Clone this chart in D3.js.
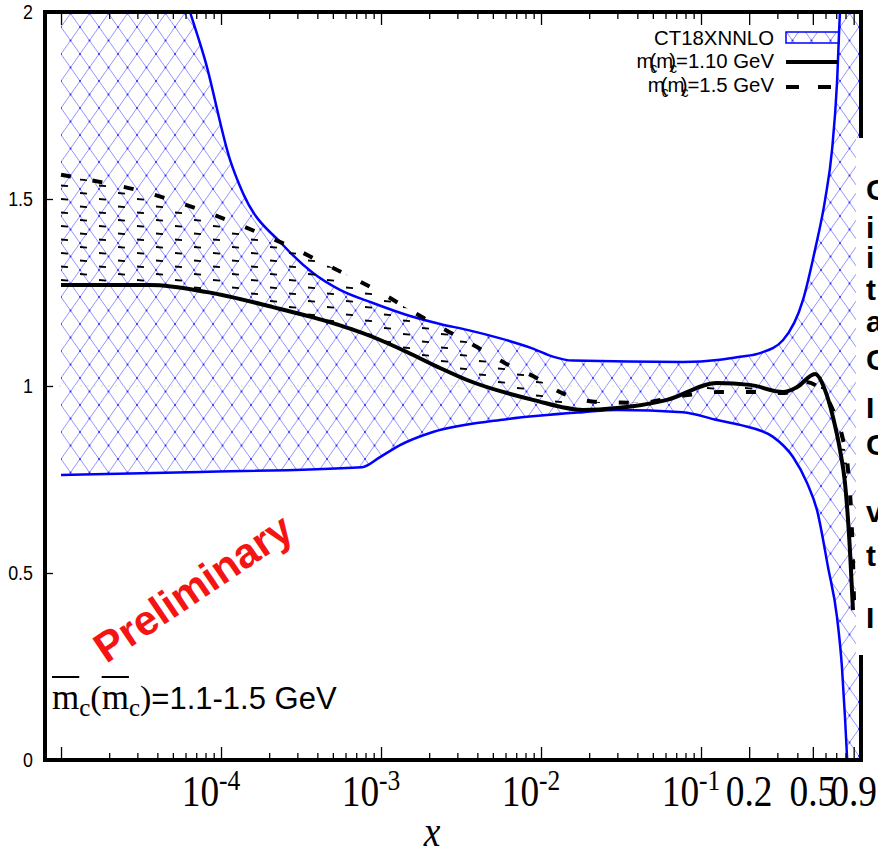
<!DOCTYPE html>
<html><head><meta charset="utf-8">
<script src="https://cdn.jsdelivr.net/npm/d3@7"></script>
<style>
html,body{margin:0;padding:0;background:#fff;}
#wrap{position:relative;width:878px;height:855px;overflow:hidden;background:#fff;}
svg{position:absolute;left:0;top:0;}
#mlabel{position:absolute;left:52px;top:680px;font-family:"Liberation Sans",Arial,sans-serif;font-size:31px;white-space:nowrap;color:#000;line-height:1;}
#mlabel .ov{text-decoration:overline;text-decoration-thickness:2px;font-family:"Liberation Serif","DejaVu Serif",serif;font-size:35px;}
#mlabel .sb{font-family:"Liberation Serif","DejaVu Serif",serif;font-size:25px;position:relative;top:7px;}
#mlabel .pr{font-family:"Liberation Serif","DejaVu Serif",serif;font-size:34px;}
</style></head><body><div id="wrap"></div>
<script>
// ---------- data ----------
const bandX     = [1e-5, 3e-5, 6.4e-5, 7.94e-5, 1.14e-4, 1.37e-4, 2.44e-4, 3.76e-4, 5.54e-4, 8.9e-4, 1.45e-3, 2.34e-3, 3.45e-3, 5.5e-3, 8.9e-3, 1.2e-2, 1.58e-2, 7.7e-2, 0.131, 0.175, 0.234, 0.326, 0.434, 0.516, 0.596, 0.659, 0.708, 0.739, 0.77, 1.0];
const bandUpper = [3.3, 2.45, 2.0, 1.872, 1.604, 1.516, 1.377, 1.302, 1.257, 1.222, 1.190, 1.166, 1.150, 1.128, 1.100, 1.078, 1.068, 1.064, 1.070, 1.078, 1.088, 1.123, 1.230, 1.364, 1.497, 1.631, 1.810, 2.0, 2.1, 3.0];
const lowX      = [1e-5, 7.4e-5, 7.6e-4, 9.86e-4, 1.315e-3, 2.11e-3, 5.55e-3, 1.83e-2, 2.99e-2, 7.7e-2, 0.126, 0.175, 0.282, 0.376, 0.46, 0.531, 0.622, 0.708, 0.76, 0.794, 0.818, 0.85, 1.0];
const bandLower = [0.762, 0.770, 0.783, 0.810, 0.842, 0.877, 0.909, 0.930, 0.936, 0.930, 0.909, 0.896, 0.864, 0.810, 0.741, 0.668, 0.516, 0.382, 0.249, 0.115, 0.008, -0.15, -1.0];
const solidX    = [1e-5, 3.6e-5, 8.2e-5, 2.11e-4, 4.34e-4, 8.9e-4, 1.45e-3, 2.34e-3, 3.45e-3, 8.9e-3, 1.83e-2, 2.99e-2, 6.13e-2, 0.126, 0.202, 0.326, 0.398, 0.516, 0.596, 0.668, 0.739, 0.794, 0.853, 0.891];
const solidV    = [1.270, 1.270, 1.251, 1.211, 1.176, 1.131, 1.091, 1.048, 1.016, 0.963, 0.936, 0.941, 0.963, 1.008, 1.003, 0.984, 0.997, 1.032, 0.989, 0.917, 0.829, 0.741, 0.561, 0.401];
const dashX     = [1e-5, 1.88e-5, 2.99e-5, 4.67e-5, 7.4e-5, 1.17e-4, 1.80e-4, 2.82e-4, 4.34e-4, 6.68e-4, 1.06e-3, 1.63e-3, 3.98e-3, 5.96e-3, 9.44e-3, 1.31e-2, 2.34e-2, 4.16e-2, 7.4e-2, 0.131, 0.234, 0.335, 0.447, 0.516, 0.596, 0.688, 0.772, 0.830, 0.866, 0.891, 0.904];
const dashV     = [1.565, 1.543, 1.524, 1.500, 1.471, 1.439, 1.406, 1.369, 1.329, 1.289, 1.243, 1.195, 1.104, 1.061, 1.021, 0.984, 0.957, 0.955, 0.973, 0.984, 0.984, 0.981, 1.011, 1.003, 0.976, 0.922, 0.856, 0.775, 0.668, 0.535, 0.428];

const yTicks      = [0, 0.5, 1, 1.5, 2];
const yTickLabels = ["0", "0.5", "1", "1.5", "2"];
const xMajor      = [1e-5, 1e-4, 1e-3, 1e-2, 1e-1, 0.2, 0.5, 0.9];
const xMinor      = [2e-5,3e-5,4e-5,5e-5,6e-5,7e-5,8e-5,9e-5, 2e-4,3e-4,4e-4,5e-4,6e-4,7e-4,8e-4,9e-4, 2e-3,3e-3,4e-3,5e-3,6e-3,7e-3,8e-3,9e-3, 2e-2,3e-2,4e-2,5e-2,6e-2,7e-2,8e-2,9e-2, 0.3,0.4,0.6,0.7,0.8];
const xLabelVals  = [1e-4, 1e-3, 1e-2, 1e-1, 0.2, 0.5, 0.9];
const xLabels     = ["10^-4", "10^-3", "10^-2", "10^-1", "0.2", "0.5", "0.9"];
const legendLabels = ["CT18XNNLO", "m_c(m_c)=1.10 GeV", "m_c(m_c)=1.5 GeV"];
const sideGlyphs  = ["C","i","i","t","a","C","I","C","v","t","I"];
const sideGlyphY  = [200, 238, 268, 300, 332, 370, 418, 455, 522, 566, 628];

// ---------- layout ----------
const W = 878, H = 855, L = 45, R = 861, T = 12, B = 760;
const sans = '"Liberation Sans", Arial, sans-serif';
const serif = '"Liberation Serif", "Times New Roman", serif';

const x = d3.scaleLog().domain([7.94e-6, 1]).range([L, R]);
const y = d3.scaleLinear().domain([0, 2]).range([B, T]);

const svg = d3.select("#wrap").append("svg").attr("width", W).attr("height", H);
const defs = svg.append("defs");
defs.append("clipPath").attr("id", "plotclip").append("rect")
  .attr("x", L).attr("y", T).attr("width", R - L).attr("height", B - T);

// cross-hatch pattern
const pw = 19, ph = 27;
const cross = defs.append("pattern").attr("id", "cross").attr("patternUnits", "userSpaceOnUse")
  .attr("width", pw).attr("height", ph).attr("x", 4).attr("y", 0);
cross.append("path").attr("d", `M0,0L${pw},${ph}M${pw},0L0,${ph}`)
  .attr("stroke", "#7878ff").attr("stroke-width", 0.8).attr("fill", "none");
[[pw/2, ph/2], [0,0], [pw,0], [0,ph], [pw,ph]].forEach(p =>
  cross.append("circle").attr("cx", p[0]).attr("cy", p[1]).attr("r", 1).attr("fill", "#2a2aff"));

// short-dash fill pattern between the two mass curves
const dp = defs.append("pattern").attr("id", "dashfill").attr("patternUnits", "userSpaceOnUse")
  .attr("width", 38).attr("height", 27).attr("x", 2).attr("y", 0);
[[2,4],[2,17.5],[21,10],[21,23.5]].forEach(p =>
  dp.append("line").attr("x1", p[0]).attr("x2", p[0] + 7).attr("y1", p[1]).attr("y2", p[1] + 0.6)
    .attr("stroke", "#000").attr("stroke-width", 1.8));

const line = d3.line().x(d => x(d[0])).y(d => y(d[1])).curve(d3.curveMonotoneX);
const upperPts = bandX.map((v, i) => [v, bandUpper[i]]);
const lowerPts = lowX.map((v, i) => [v, bandLower[i]]);
const solidPts = solidX.map((v, i) => [v, solidV[i]]);
const dashPts  = dashX.map((v, i) => [v, dashV[i]]);

const plot = svg.append("g").attr("clip-path", "url(#plotclip)");

// band fill
const bandPath = line(upperPts) + line(lowerPts.slice().reverse()).replace(/^M/, "L") + "Z";
plot.append("path").attr("d", bandPath).attr("fill", "url(#cross)").attr("stroke", "none");
[upperPts, lowerPts].forEach(pts =>
  plot.append("path").attr("d", line(pts)).attr("fill", "none").attr("stroke", "#0000ff").attr("stroke-width", 2.5));

// dotted y=1 line
plot.append("line").attr("x1", L).attr("x2", 855).attr("y1", y(1)).attr("y2", y(1))
  .attr("stroke", "#e9e2a8").attr("stroke-width", 1.2).attr("stroke-dasharray", "2,5");

// region between the two mass curves
const midPath = line(dashPts) + line(solidPts.slice().reverse()).replace(/^M/, "L") + "Z";
plot.append("path").attr("d", midPath).attr("fill", "url(#dashfill)").attr("stroke", "none");

// curves
plot.append("path").attr("d", line(solidPts)).attr("fill", "none").attr("stroke", "#000").attr("stroke-width", 4);
plot.append("path").attr("d", line(dashPts)).attr("fill", "none").attr("stroke", "#000").attr("stroke-width", 4)
  .attr("stroke-dasharray", "10,22");

// axes ticks
function styleAxis(g) { g.select(".domain").remove(); g.selectAll("line").attr("stroke", "#000").attr("stroke-width", 1.3); }
svg.append("g").attr("transform", `translate(0,${B})`).call(d3.axisBottom(x).tickValues(xMajor).tickSize(-13).tickFormat("")).call(styleAxis);
svg.append("g").attr("transform", `translate(0,${B})`).call(d3.axisBottom(x).tickValues(xMinor).tickSize(-7).tickFormat("")).call(styleAxis);
svg.append("g").attr("transform", `translate(0,${T})`).call(d3.axisTop(x).tickValues(xMajor).tickSize(-13).tickFormat("")).call(styleAxis);
svg.append("g").attr("transform", `translate(0,${T})`).call(d3.axisTop(x).tickValues(xMinor).tickSize(-7).tickFormat("")).call(styleAxis);
svg.append("g").attr("transform", `translate(${L},0)`).call(d3.axisLeft(y).tickValues(yTicks).tickSize(-8).tickFormat("")).call(styleAxis);

// frame
svg.append("rect").attr("x", L).attr("y", T).attr("width", R - L).attr("height", B - T)
  .attr("fill", "none").attr("stroke", "#000").attr("stroke-width", 4);

// y labels
yTicks.forEach((v, i) => {
  svg.append("g").attr("transform", `translate(33,${y(v) + 7})scale(0.85,1)`)
    .append("text").attr("text-anchor", "end").attr("font-family", sans).attr("font-size", 21)
    .text(yTickLabels[i]);
});

// x labels
xLabelVals.forEach((v, i) => {
  const parts = xLabels[i].split("^");
  const shift = parts[1] ? -10 : 0;
  const g = svg.append("g").attr("transform", `translate(${x(v) + shift},806)scale(0.85,1)`);
  const t = g.append("text").attr("text-anchor", "middle").attr("font-family", serif).attr("font-size", 44);
  t.append("tspan").text(parts[0]);
  if (parts[1]) t.append("tspan").attr("font-size", 30).attr("dy", -16).text(parts[1]);
});
svg.append("g").attr("transform", "translate(432,846)scale(0.85,1)")
  .append("text").attr("text-anchor", "middle").attr("font-family", serif).attr("font-style", "italic")
  .attr("font-size", 44).text("x");

// legend
const legY = [45, 68, 92];
legendLabels.forEach((lab, i) => {
  const t = svg.append("g").attr("transform", `translate(774,${legY[i]})scale(0.97,1)`)
    .append("text").attr("text-anchor", "end").attr("font-family", sans).attr("font-size", 21);
  const parts = lab.split("_c");
  parts.forEach((p, j) => {
    if (j > 0) t.append("tspan").attr("font-size", 14).attr("dy", 5).attr("dx", -3).text("c");
    const s = t.append("tspan").text(p);
    if (j > 0) s.attr("dy", -5).attr("dx", -8);
  });
});
svg.append("rect").attr("x", 786).attr("y", 32).attr("width", 53).attr("height", 11)
  .attr("fill", "url(#cross)").attr("stroke", "#0000ff").attr("stroke-width", 1.5);
svg.append("line").attr("x1", 786).attr("x2", 838).attr("y1", 62).attr("y2", 62).attr("stroke", "#000").attr("stroke-width", 4);
svg.append("line").attr("x1", 786).attr("x2", 838).attr("y1", 87).attr("y2", 87).attr("stroke", "#000").attr("stroke-width", 4)
  .attr("stroke-dasharray", "13,19");

// Preliminary
svg.append("text").attr("transform", "translate(201,600)rotate(-34)").attr("text-anchor", "middle")
  .attr("font-family", sans).attr("font-weight", "bold").attr("font-size", 42).attr("fill", "#f41414")
  .text("Preliminary");

// white overlay on the right side with cut-off text
svg.append("rect").attr("x", 856).attr("y", 138).attr("width", 30).attr("height", 517).attr("fill", "#fff");
sideGlyphs.forEach((c, i) =>
  svg.append("text").attr("x", 866).attr("y", sideGlyphY[i]).attr("font-family", sans).attr("font-weight", "bold")
    .attr("font-size", 30).text(c));

// mass range label (HTML for overlines)
d3.select("#wrap").append("div").attr("id", "mlabel")
  .html('<span class="ov">m</span><span class="sb">c</span><span class="pr">(</span><span class="ov">m</span><span class="sb">c</span><span class="pr">)</span>=1.1-1.5 GeV');
</script></body></html>
